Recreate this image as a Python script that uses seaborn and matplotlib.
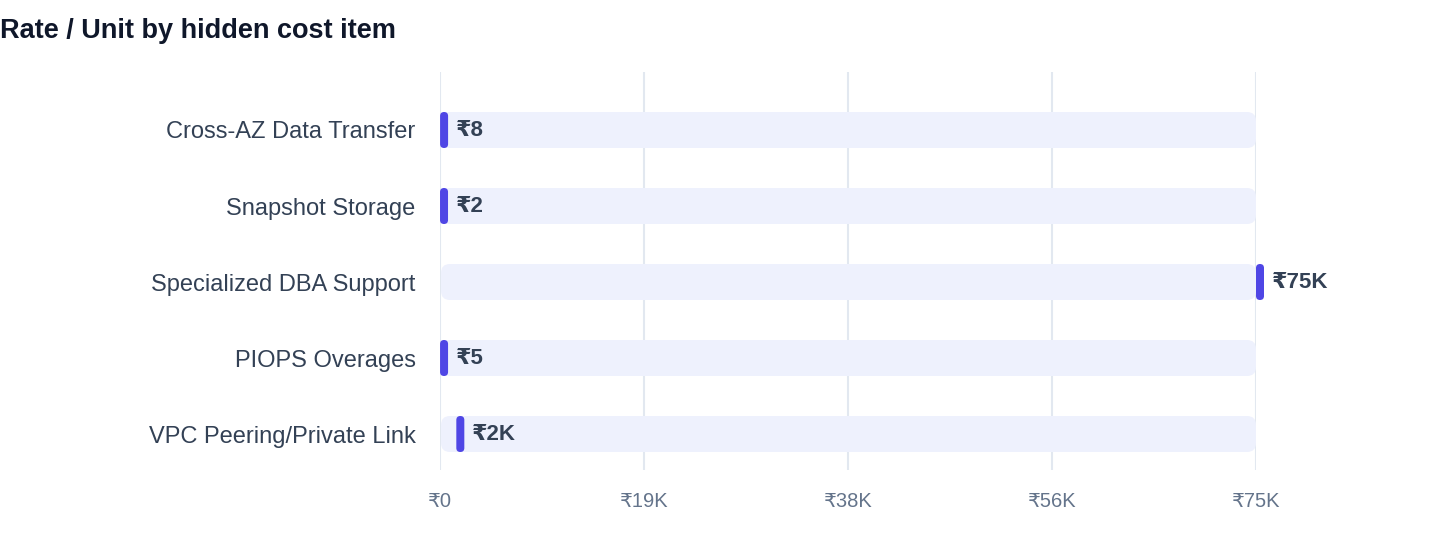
import matplotlib
matplotlib.use("Agg")
import matplotlib.pyplot as plt
import numpy as np
import pandas as pd
import seaborn as sns
from matplotlib.patches import FancyBboxPatch

# data
items = [
    "Cross-AZ Data Transfer",
    "Snapshot Storage",
    "Specialized DBA Support",
    "PIOPS Overages",
    "VPC Peering/Private Link",
]
rates = [8, 2, 75000, 5, 1500]
value_labels = ["₹8", "₹2", "₹75K", "₹5", "₹2K"]
x_max = 75000
tick_values = [0, 18750, 37500, 56250, 75000]
tick_labels = ["₹0", "₹19K", "₹38K", "₹56K", "₹75K"]

df = pd.DataFrame({"item": items, "rate": rates, "track": [x_max] * len(items)})

sns.set_theme(style="white")
plt.rcParams["font.family"] = ["Liberation Sans", "DejaVu Sans"]

TRACK = "#EEF1FD"
MARK = "#4F46E5"
LABEL = "#334155"
TICK = "#64748B"
GRID = "#E2E8F0"

W, H = 1440, 560
fig = plt.figure(figsize=(W / 100, H / 100), dpi=100)
ax = fig.add_axes([440 / W, 1 - 470 / H, (1256 - 440) / W, (470 - 72) / H])

bar_h = 36 / 76
sns.barplot(data=df, x="track", y="item", color=TRACK, width=bar_h, ax=ax,
            saturation=1, zorder=2)

ax.set_xlim(0, x_max)
ax.set_ylim(len(items) - 1 + 36 / 76, -58 / 76)

# px -> data units
x_per_px = x_max / (1256 - 440)
y_per_px = 1 / 76
aspect = y_per_px / x_per_px

# replace bars by rounded tracks
for p in list(ax.patches):
    x0, y0 = p.get_x(), p.get_y()
    w, h = p.get_width(), p.get_height()
    p.remove()
    ax.add_patch(FancyBboxPatch((x0 + x_per_px, y0), w - x_per_px, h,
                                boxstyle=f"round,pad=0,rounding_size={9 * x_per_px}",
                                mutation_aspect=aspect, fc=TRACK, ec="none",
                                zorder=2))

# value markers + labels
mark_w = 8 * x_per_px
for i, (v, lab) in enumerate(zip(rates, value_labels)):
    ax.add_patch(FancyBboxPatch((v, i - bar_h / 2), mark_w, bar_h,
                                boxstyle=f"round,pad=0,rounding_size={mark_w / 2}",
                                mutation_aspect=aspect, fc=MARK, ec="none",
                                zorder=3, clip_on=False))
    ax.text(v + mark_w + 8 * x_per_px, i, lab, ha="left", va="center",
            fontsize=16, fontweight="bold", color=LABEL, zorder=4,
            clip_on=False)

ax.set_xticks(tick_values)
ax.set_xticklabels(tick_labels)
ax.grid(axis="x", color=GRID, linewidth=1.5, zorder=0)
ax.set_axisbelow(True)
ax.tick_params(axis="x", length=0, pad=16, labelsize=14.5, labelcolor=TICK)
ax.tick_params(axis="y", length=0, pad=17.5, labelsize=17, labelcolor=LABEL)
ax.set_xlabel("")
ax.set_ylabel("")
for s in ax.spines.values():
    s.set_visible(False)

fig.text(0.0, 1 - 31 / H, "Rate / Unit by hidden cost item", ha="left",
         va="center", fontsize=19.5, fontweight="bold", color="#0F172A")

fig.savefig("out.png", dpi=100)
